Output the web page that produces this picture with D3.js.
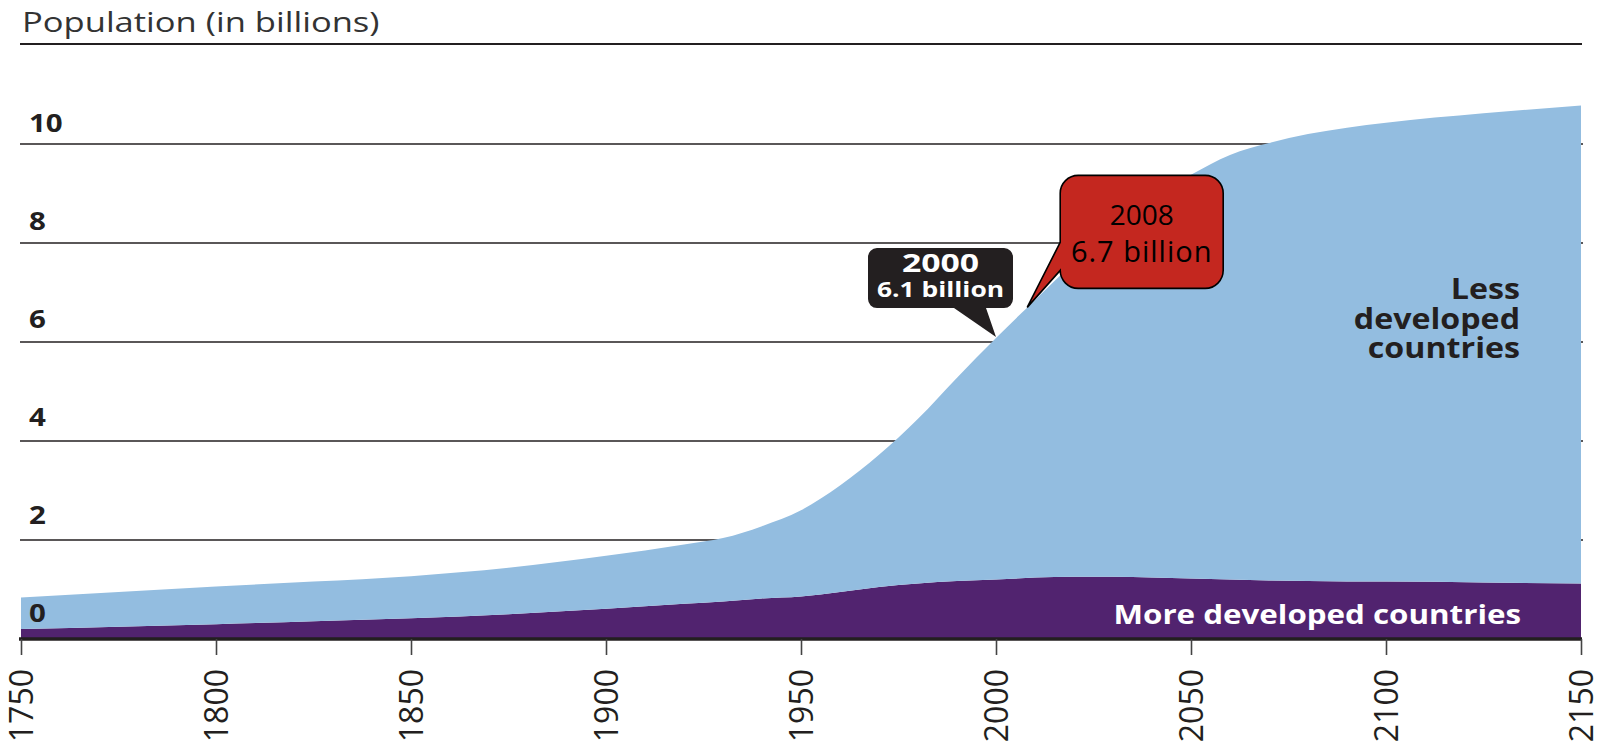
<!DOCTYPE html>
<html>
<head>
<meta charset="utf-8">
<script src="https://cdn.jsdelivr.net/npm/d3@7"></script>
<style>
body { margin: 0; background: #fff; }
svg text { font-family: "Open Sans", "DejaVu Sans", sans-serif; }
</style>
</head>
<body>
<svg id="chart" width="1604" height="746"></svg>
<script>
// population in billions
var years = [1750, 1775, 1800, 1825, 1850, 1875, 1900, 1920, 1930, 1940, 1950, 1960, 1970, 1980, 1990,
             2000, 2010, 2020, 2030, 2040, 2050, 2060, 2070, 2080, 2090, 2100, 2125, 2150];
var moreDeveloped = [0.20, 0.25, 0.30, 0.36, 0.42, 0.50, 0.61, 0.71, 0.76, 0.82, 0.86, 0.95, 1.05, 1.12, 1.17,
                     1.20, 1.24, 1.26, 1.26, 1.24, 1.22, 1.20, 1.18, 1.17, 1.16, 1.16, 1.14, 1.12];
var lessDeveloped = [0.64, 0.70, 0.76, 0.80, 0.85, 0.94, 1.07, 1.20, 1.28, 1.46, 1.74, 2.15, 2.67, 3.33, 4.11,
                     4.88, 5.61, 6.34, 7.04, 7.66, 8.16, 8.58, 8.84, 9.03, 9.17, 9.27, 9.48, 9.66];
var yTicks = [0, 2, 4, 6, 8, 10];
var xTicks = [1750, 1800, 1850, 1900, 1950, 2000, 2050, 2100, 2150];

// callouts
var calloutYears = [2000, 2008];
var calloutValues = [6.1, 6.7];
var calloutText = [["2000", "6.1 billion"], ["2008", "6.7 billion"]];

var svg = d3.select("#chart");
var ink = "#231f20";

var x = d3.scaleLinear().domain([1750, 2150]).range([21, 1581]);
var y = d3.scaleLinear().domain([0, 10]).range([639, 144]);

var rows = years.map(function(yr, i) {
    return { year: yr, more: moreDeveloped[i], less: lessDeveloped[i] };
});
var stack = d3.stack().keys(["more", "less"]);
var series = stack(rows);
var colors = { more: "#51236f", less: "#93bde0" };

// the source lettering is a wide face, so horizontal texts get stretched a bit
function wideText(parent, tx, ty, sx) {
    return parent.append("text")
        .attr("transform", "translate(" + tx + "," + ty + ") scale(" + sx + ",1)");
}

// title + rule
wideText(svg, 22, 32, 1.28)
   .attr("font-size", "27px")
   .attr("fill", "#333")
   .text("Population (in billions)");
svg.append("line")
   .attr("x1", 20).attr("x2", 1582)
   .attr("y1", 44).attr("y2", 44)
   .attr("stroke", ink)
   .attr("stroke-width", 2);

// gridlines, behind the areas
svg.append("g")
   .selectAll("line")
   .data(yTicks.slice(1))
   .enter().append("line")
   .attr("x1", 20).attr("x2", 1583)
   .attr("y1", function(d) { return y(d); })
   .attr("y2", function(d) { return y(d); })
   .attr("stroke", ink)
   .attr("stroke-width", 1.6);

var area = d3.area()
    .curve(d3.curveMonotoneX)
    .x(function(d) { return x(d.data.year); })
    .y0(function(d) { return y(d[0]); })
    .y1(function(d) { return y(d[1]); });

svg.append("g")
   .selectAll("path")
   .data(series)
   .enter().append("path")
   .attr("d", area)
   .attr("fill", function(d) { return colors[d.key]; });

// y labels sit a little above their line
yTicks.forEach(function(d) {
    wideText(svg, 29, y(d) - 17 + d * 0.5, 1.18)
       .attr("font-size", "25px")
       .attr("font-weight", "bold")
       .attr("fill", ink)
       .text(d);
});

// x axis
var xAxis = d3.axisBottom(x)
    .tickValues(xTicks)
    .tickFormat(d3.format("d"))
    .tickSize(16)
    .tickSizeOuter(0)
    .tickPadding(14);
var gx = svg.append("g")
   .attr("transform", "translate(0," + y(0) + ")")
   .call(xAxis);
gx.select(".domain")
  .attr("stroke", ink)
  .attr("stroke-width", 3.5)
  .attr("d", "M" + (x.range()[0] - 2) + ",0H" + (x.range()[1] + 1));
gx.selectAll(".tick line").attr("stroke", "#444").attr("stroke-width", 1.6);
gx.selectAll(".tick text")
  .attr("font-family", "Open Sans")
  .attr("font-size", "32px")
  .attr("fill", ink)
  .attr("text-anchor", "end")
  .attr("dy", "0.36em")
  .attr("transform", "rotate(-90)")
  .attr("x", -30)
  .attr("y", 0);

// area labels
["Less", "developed", "countries"].forEach(function(t, i) {
    wideText(svg, 1520, 299 + i * 29.5, 1.15)
       .attr("text-anchor", "end")
       .attr("font-size", "28px")
       .attr("font-weight", "bold")
       .attr("fill", ink)
       .text(t);
});
wideText(svg, 1521, 624, 1.16)
   .attr("text-anchor", "end")
   .attr("font-size", "27px")
   .attr("font-weight", "bold")
   .attr("fill", "#fff")
   .text("More developed countries");

// black callout (2000)
(function() {
    var tx = x(calloutYears[0]), ty = y(calloutValues[0]);
    var x0 = tx - 128, x1 = tx + 17, y0 = ty - 89, y1 = ty - 29, r = 9;
    var p = d3.path();
    p.moveTo(x0 + r, y0);
    p.lineTo(x1 - r, y0);
    p.arcTo(x1, y0, x1, y0 + r, r);
    p.lineTo(x1, y1 - r);
    p.arcTo(x1, y1, x1 - r, y1, r);
    p.lineTo(tx - 10, y1);
    p.lineTo(tx, ty);
    p.lineTo(tx - 42, y1);
    p.lineTo(x0 + r, y1);
    p.arcTo(x0, y1, x0, y1 - r, r);
    p.lineTo(x0, y0 + r);
    p.arcTo(x0, y0, x0 + r, y0, r);
    p.closePath();
    svg.append("path").attr("d", p.toString()).attr("fill", ink);
    var cx = (x0 + x1) / 2;
    wideText(svg, cx, y0 + 24, 1.35)
       .attr("text-anchor", "middle").attr("font-size", "25px").attr("font-weight", "bold")
       .attr("fill", "#fff").text(calloutText[0][0]);
    wideText(svg, cx, y0 + 49, 1.2)
       .attr("text-anchor", "middle").attr("font-size", "22px").attr("font-weight", "bold")
       .attr("fill", "#fff").text(calloutText[0][1]);
})();

// red callout (2008)
(function() {
    var tx = x(calloutYears[1]), ty = y(calloutValues[1]);
    var x0 = tx + 33, x1 = tx + 196, y0 = ty - 132, y1 = ty - 19, r = 18;
    var p = d3.path();
    p.moveTo(x0 + r, y0);
    p.lineTo(x1 - r, y0);
    p.arcTo(x1, y0, x1, y0 + r, r);
    p.lineTo(x1, y1 - r);
    p.arcTo(x1, y1, x1 - r, y1, r);
    p.lineTo(x0 + r, y1);
    p.arcTo(x0, y1, x0, y1 - r, r);
    p.lineTo(tx, ty);
    p.lineTo(x0, ty - 65);
    p.lineTo(x0, y0 + r);
    p.arcTo(x0, y0, x0 + r, y0, r);
    p.closePath();
    svg.append("path").attr("d", p.toString())
       .attr("fill", "#c4271f").attr("stroke", "#000").attr("stroke-width", 1.6);
    var cx = (x0 + x1) / 2;
    svg.append("text").attr("x", cx).attr("y", y0 + 50)
       .attr("text-anchor", "middle").attr("font-family", "Lato").attr("font-size", "28px")
       .attr("fill", "#000").text(calloutText[1][0]);
    svg.append("text").attr("x", cx).attr("y", y0 + 87)
       .attr("text-anchor", "middle").attr("font-family", "Lato").attr("font-size", "29px")
       .attr("letter-spacing", "1px")
       .attr("fill", "#000").text(calloutText[1][1]);
})();
</script>
</body>
</html>
